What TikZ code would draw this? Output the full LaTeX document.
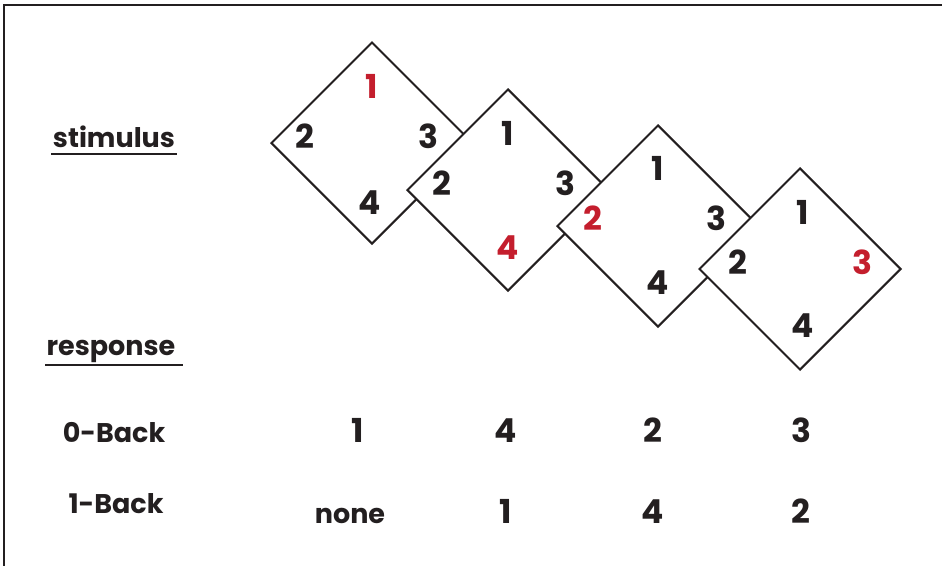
\documentclass[tikz,border=0pt]{standalone}
\usepackage{fontspec}
\setmainfont{Poppins}
\usetikzlibrary{shapes.geometric,positioning}
\definecolor{nink}{HTML}{231F20}
\definecolor{nred}{HTML}{C41E2D}
\tikzset{
  card/.style={diamond,draw=nink,fill=white,line width=2pt,minimum width=202pt,minimum height=202pt,inner sep=0pt},
  dig/.style={font=\fontsize{33}{36}\selectfont\bfseries,text=nink,inner sep=0pt},
  hit/.style={dig,text=nred},
  val/.style={dig,anchor=base},
  lab/.style={font=\fontsize{27}{32}\selectfont\bfseries,text=nink,inner sep=0pt,anchor=base},
  uline/.style={draw=nink,line width=2.2pt},
  frame/.style={draw=nink,line width=2.4pt},
}
\begin{document}
\begin{tikzpicture}[x=1pt,y=-1pt]
\useasboundingbox (0,0) rectangle (942,566);
\coordinate (corner) at (4,5);
\draw[frame] (942,5) -- (corner) -- (4,566);
% labels on the left
\node[lab] (stim) at (114,147) {stimulus};
\draw[uline] (51,154) -- (177,154);
\node[lab] (resp) at (111,355) {response};
\draw[uline] (45,365) -- (183,365);
\node[lab] (zero) at (114,442) {0-Back};
\node[lab] (one) at (116,513) {1-Back};
% stimulus cards, each one over the one before
\node[card] (c1) at (372,143) {};
\node[hit] (c1n) at ([yshift=57pt]c1.center) {1};
\node[dig] (c1w) at ([xshift=-67pt,yshift=7pt]c1.center) {2};
\node[dig] (c1e) at ([xshift=56pt,yshift=7pt]c1.center) {3};
\node[dig] (c1s) at ([xshift=-2pt,yshift=-60pt]c1.center) {4};
\node[card] (c2) at (508,190) {};
\node[dig] (c2n) at ([yshift=57pt]c2.center) {1};
\node[dig] (c2w) at ([xshift=-66pt,yshift=7pt]c2.center) {2};
\node[dig] (c2e) at ([xshift=57pt,yshift=7pt]c2.center) {3};
\node[hit] (c2s) at ([yshift=-58pt]c2.center) {4};
\node[card] (c3) at (658,226) {};
\node[dig] (c3n) at ([yshift=58pt]c3.center) {1};
\node[hit] (c3w) at ([xshift=-65pt,yshift=8pt]c3.center) {2};
\node[dig] (c3e) at ([xshift=58pt,yshift=8pt]c3.center) {3};
\node[dig] (c3s) at ([yshift=-57pt]c3.center) {4};
\node[card] (c4) at (800,269) {};
\node[dig] (c4n) at ([xshift=3pt,yshift=57pt]c4.center) {1};
\node[dig] (c4w) at ([xshift=-62pt,yshift=7pt]c4.center) {2};
\node[hit] (c4e) at ([xshift=62pt,yshift=7pt]c4.center) {3};
\node[dig] (c4s) at ([xshift=3pt,yshift=-57pt]c4.center) {4};
% responses
\node[val] (z1) at (358,442) {1};
\node[val] (z2) at (506,442) {4};
\node[val] (z3) at (653,442) {2};
\node[val] (z4) at (801,442) {3};
\node[lab] (o1) at (350,523) {none};
\node[val] (o2) at (506,523) {1};
\node[val] (o3) at (653,523) {4};
\node[val] (o4) at (801,523) {2};
\end{tikzpicture}
\end{document}
